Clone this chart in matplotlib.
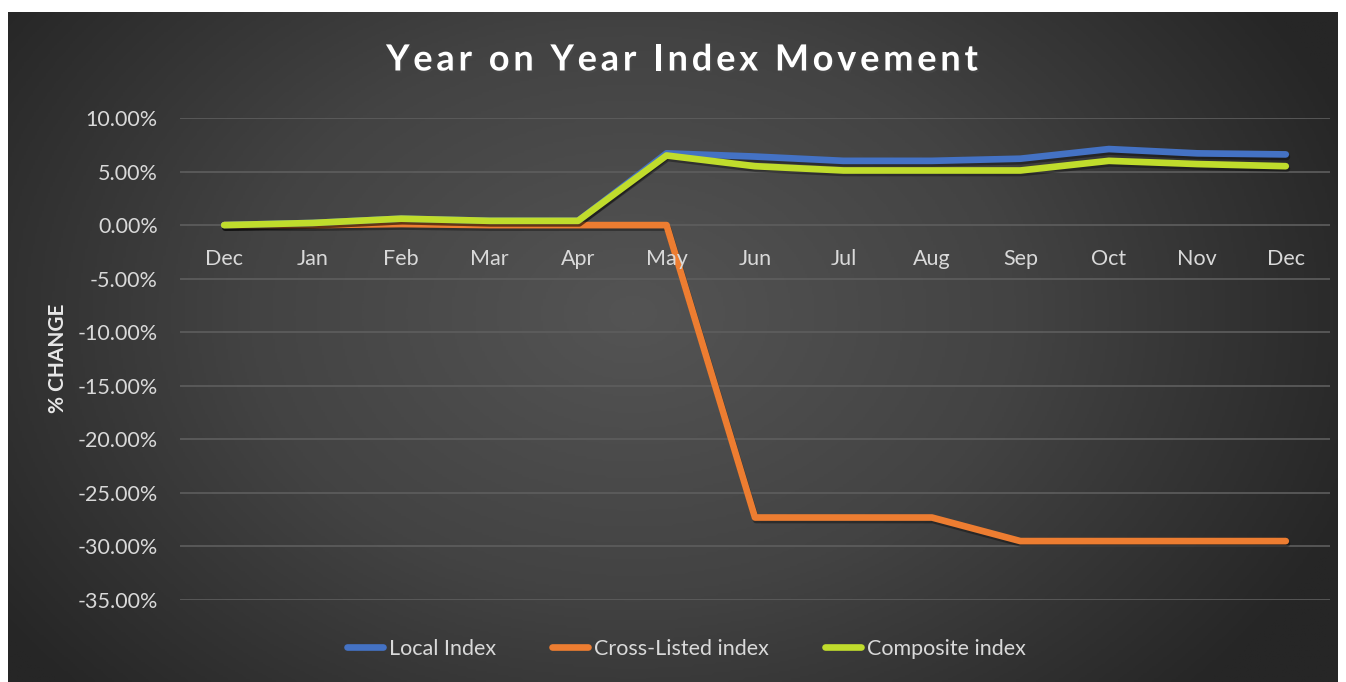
import numpy as np
import matplotlib
matplotlib.use("Agg")
import matplotlib.pyplot as plt
import matplotlib.patheffects as pe
from matplotlib.colors import LinearSegmentedColormap
from matplotlib.lines import Line2D
from matplotlib.ticker import FuncFormatter

# data (values in %)
months = ["Dec", "Jan", "Feb", "Mar", "Apr", "May", "Jun",
          "Jul", "Aug", "Sep", "Oct", "Nov", "Dec"]
local_idx = [0.0, 0.2, 0.6, 0.4, 0.4, 6.7, 6.4, 6.0, 6.0, 6.2, 7.1, 6.7, 6.6]
cross_idx = [0.0, 0.0, 0.1, 0.0, 0.0, 0.0, -27.3, -27.3, -27.3, -29.5, -29.5, -29.5, -29.5]
composite_idx = [0.0, 0.2, 0.6, 0.4, 0.4, 6.5, 5.5, 5.1, 5.1, 5.1, 6.0, 5.7, 5.5]
y_ticks = [10, 5, 0, -5, -10, -15, -20, -25, -30, -35]
series_names = ['Local Index', 'Cross-Listed index', 'Composite index']
series_colors = ['#4472c4', '#ed7d31', '#c0dc2c']

plt.rcParams['font.family'] = ['Lato', 'DejaVu Sans']

W, H = 1346, 682
fig = plt.figure(figsize=(W / 100, H / 100), dpi=100, facecolor='white')

# dark gradient panel behind the chart
bg = fig.add_axes([8 / W, 0, (W - 16) / W, (H - 12) / H])
yy, xx = np.mgrid[0:1:300j, 0:1:600j]
r = np.sqrt(((xx - 0.47) * 1.3) ** 2 + ((yy - 0.45) * 0.9) ** 2)
cmap = LinearSegmentedColormap.from_list('bg', ['#545454', '#434343', '#262626'])
bg.imshow(r, cmap=cmap, vmin=0, vmax=0.75, aspect='auto', extent=[0, 1, 0, 1])
bg.set_axis_off()

# plot area: x 180..1330 px, y 118..600 px
ax = fig.add_axes([180 / W, (H - 600) / H, 1150 / W, 482 / H])
ax.set_facecolor('none')

x = np.arange(len(months))
shadow = [pe.SimpleLineShadow(offset=(0.8, -1.8), shadow_color='black', alpha=0.35), pe.Normal()]
for vals, col, z in [(local_idx, series_colors[0], 3), (cross_idx, series_colors[1], 2),
                     (composite_idx, series_colors[2], 4)]:
    ax.plot(x, vals, color=col, lw=4.8, solid_capstyle='round', solid_joinstyle='round',
            path_effects=shadow, zorder=z)

ax.set_xlim(-0.5, len(months) - 0.5)
ax.set_ylim(-35, 10)
ax.set_yticks(y_ticks)
ax.yaxis.set_major_formatter(FuncFormatter(lambda v, p: f"{v:.2f}%"))
ax.grid(axis='y', color='#5e5e5e', lw=1.2)
ax.set_axisbelow(True)
for s in ax.spines.values():
    s.set_visible(False)
ax.tick_params(axis='y', length=0, pad=16, labelsize=15.5, labelcolor='#d9d9d9')

# month labels sit just below the zero line
ax.set_xticks([])
for i, m in enumerate(months):
    ax.text(i, -2.2, m, ha='center', va='top', fontsize=15.5, color='#d9d9d9')

fig.text(58 / W, 1 - 358 / H, '% CHANGE', rotation=90, ha='center', va='center',
         fontsize=15, fontweight='bold', color='#e8e8e8')

# title with extra letter spacing
title = 'Year on Year Index Movement'
spacing = 3.8
renderer = fig.canvas.get_renderer()
widths = []
for ch in title:
    t = fig.text(0, 0, ch if ch != ' ' else 'n', fontsize=26, fontweight='bold')
    w = t.get_window_extent(renderer).width
    widths.append(w * (0.45 if ch == ' ' else 1.0))
    t.remove()
total = sum(widths) + spacing * (len(title) - 1)
xpos = 682 - total / 2
for ch, w in zip(title, widths):
    if ch != ' ':
        fig.text(xpos / W, 1 - 60 / H, ch, ha='left', va='center', fontsize=26,
                 fontweight='bold', color='white',
                 path_effects=[pe.withSimplePatchShadow(offset=(1.2, -1.5), alpha=0.5)])
    xpos += w + spacing

handles = [Line2D([0], [0], color=c, lw=4.8, solid_capstyle='round') for c in series_colors]
ax.legend(handles, series_names, loc='center', bbox_to_anchor=(686 / W, 1 - 649 / H),
          bbox_transform=fig.transFigure, ncol=3, frameon=False, fontsize=15.5,
          labelcolor='#d9d9d9', handlelength=1.7, handletextpad=0.25, columnspacing=2.6)

fig.savefig('out.png', dpi=100, facecolor='white')
